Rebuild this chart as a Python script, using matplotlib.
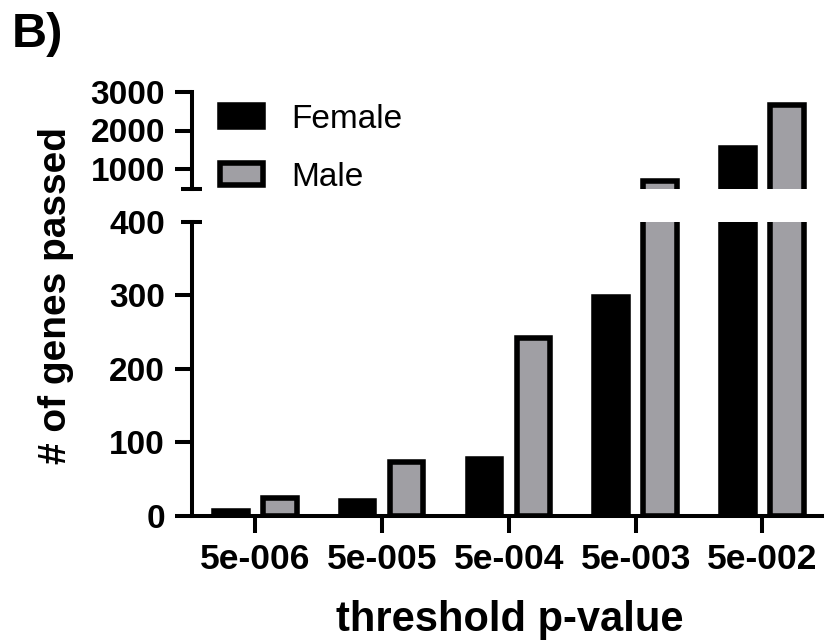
import matplotlib
matplotlib.use("Agg")
import matplotlib.pyplot as plt
from matplotlib.lines import Line2D
import numpy as np

categories = ["5e-006", "5e-005", "5e-004", "5e-003", "5e-002"]
female = [7, 21, 77, 298, 1545]
male = [24, 73, 242, 700, 2670]
lower_ticks = [0, 100, 200, 300, 400]
upper_ticks = [1000, 2000, 3000]

plt.rcParams['font.family'] = ['Liberation Sans', 'DejaVu Sans']
plt.rcParams['font.weight'] = 'bold'

W, H = 829, 641
fig = plt.figure(figsize=(W / 100, H / 100), dpi=100)

def fx(px):
    return px / W

def fy(py):
    return 1 - py / H

left, right = 192, 822
ax_lo = fig.add_axes([fx(left), fy(516), fx(right - left), fy(221.7) - fy(516)])
ax_hi = fig.add_axes([fx(left), fy(188.7), fx(right - left), fy(91.7) - fy(188.7)])

x = np.arange(len(categories))
bw = 0.264
off = 0.193
lw = 4.0
gray = '#a09fa4'

for ax in (ax_lo, ax_hi):
    ax.bar(x - off, female, bw, color='black', edgecolor='black', linewidth=lw, label='Female')
    ax.bar(x + off, male, bw, color=gray, edgecolor='black', linewidth=lw, label='Male')
    ax.set_xlim(-0.5, 4.47)
    for s in ('top', 'right'):
        ax.spines[s].set_visible(False)
    ax.spines['left'].set_linewidth(2.9)
    ax.spines['bottom'].set_linewidth(2.9)
    ax.tick_params(axis='both', direction='out', length=12.5, width=2.9, labelsize=24, pad=7)

ax_lo.set_ylim(0, 400)
ax_lo.set_yticks(lower_ticks)
ax_lo.yaxis.get_major_ticks()[-1].tick1line.set_visible(False)
ax_lo.set_xticks(x)
ax_lo.set_xticklabels(categories, fontsize=25.5, fontweight='bold')
ax_lo.tick_params(axis='x', pad=7)
for lab in ax_lo.get_yticklabels():
    lab.set_fontweight('bold')

ax_hi.set_ylim(500, 3000)
ax_hi.set_yticks(upper_ticks)
ax_hi.spines['bottom'].set_visible(False)
ax_hi.tick_params(axis='x', bottom=False, labelbottom=False)
for lab in ax_hi.get_yticklabels():
    lab.set_fontweight('bold')

cap = 10.5 / (right - left)
ax_lo.add_line(Line2D([-cap, cap], [1, 1], transform=ax_lo.transAxes, color='black', lw=2.9, clip_on=False, solid_capstyle='butt'))
ax_hi.add_line(Line2D([-cap, cap], [0, 0], transform=ax_hi.transAxes, color='black', lw=2.9, clip_on=False, solid_capstyle='butt'))

fig.text(fx(510), fy(631), 'threshold p-value', ha='center', va='baseline', fontsize=30, fontweight='bold')
fig.text(fx(56), fy(296), '# of genes passed', rotation=90, ha='center', va='center', fontsize=28, fontweight='bold')
fig.text(fx(12), fy(12), 'B)', ha='left', va='top', fontsize=35, fontweight='bold')

leg = ax_hi.legend(loc='upper left', bbox_to_anchor=(fx(220), fy(104)), bbox_transform=fig.transFigure,
                   frameon=False, prop={'size': 24, 'weight': 'normal'}, handlelength=1.3, handleheight=0.64,
                   handletextpad=0.84, labelspacing=0.8, borderpad=0, borderaxespad=0)

fig.savefig('out.png', dpi=100)
